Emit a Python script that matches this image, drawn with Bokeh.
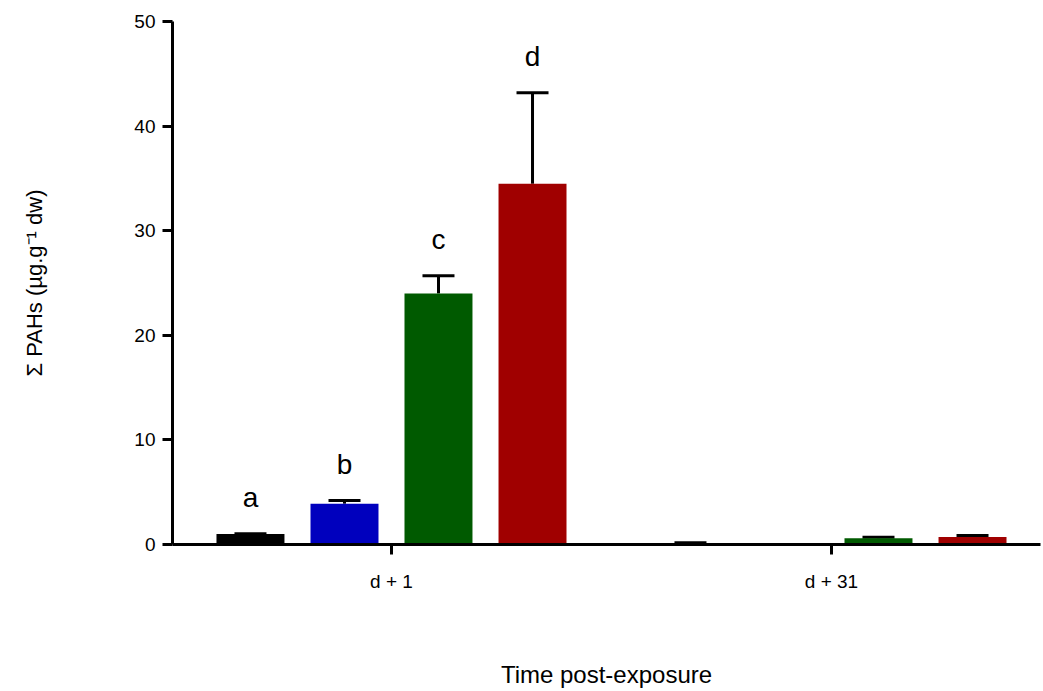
import numpy as np
from bokeh.plotting import figure
from bokeh.models import ColumnDataSource, Range1d, FixedTicker, Whisker, TeeHead
from bokeh.core.properties import value
from bokeh.embed import file_html
from bokeh.resources import INLINE

# ---- data ----
groups = ["d + 1", "d + 31"]
series = ["S1", "S2", "S3", "S4"]
colors = ["#000000", "#0000BE", "#005A00", "#A00000"]
means_d1 = [1.0, 3.9, 24.0, 34.5]
errs_d1 = [0.03, 0.3, 1.7, 8.7]
means_d31 = [0.05, 0.0, 0.6, 0.72]
errs_d31 = [0.12, 0.0, 0.1, 0.15]
letters_d1 = ["a", "b", "c", "d"]
y_ticks = [0, 10, 20, 30, 40, 50]

FONT = "Liberation Sans"

offsets = [-0.3205, -0.1068, 0.1068, 0.3205]
bar_w = 0.1545

xs, tops, errs, cols = [], [], [], []
for gi, (m, e) in enumerate([(means_d1, errs_d1), (means_d31, errs_d31)]):
    for si in range(len(series)):
        xs.append(gi + offsets[si])
        tops.append(m[si])
        errs.append(e[si])
        cols.append(colors[si])

src = ColumnDataSource(dict(x=xs, top=tops, upper=[t + e for t, e in zip(tops, errs)],
                            color=cols))

p = figure(width=1043, height=691, output_backend="svg", toolbar_location=None,
           x_range=Range1d(-0.4977, 1.475), y_range=Range1d(0, 50),
           min_border_left=172, min_border_top=21, min_border_bottom=147, min_border_right=3)
p.outline_line_color = None
p.xgrid.visible = False
p.ygrid.visible = False

p.vbar(x="x", top="top", bottom=0, width=bar_w, color="color", line_color=None, source=src)

wh = Whisker(base="x", lower="top", upper="upper", source=src,
             line_color="black", line_width=3,
             upper_head=TeeHead(size=32, line_width=3, line_color="black"),
             lower_head=None)
p.add_layout(wh)

lsrc = ColumnDataSource(dict(x=[0 + o for o in offsets],
                             y=[m + e for m, e in zip(means_d1, errs_d1)],
                             t=letters_d1))
p.text(x="x", y="y", text="t", source=lsrc, text_align="center", text_baseline="alphabetic",
       y_offset=-36, text_font=value(FONT), text_font_size="28px", text_color="black")

# y axis
p.yaxis.ticker = FixedTicker(ticks=y_ticks)
p.yaxis.minor_tick_line_color = None
p.yaxis.major_tick_in = 0
p.yaxis.major_tick_out = 10
p.yaxis.major_tick_line_width = 3
p.yaxis.axis_line_width = 3
p.yaxis.major_label_text_font = FONT
p.yaxis.major_label_text_font_size = "19px"
p.yaxis.major_label_text_color = "black"
p.yaxis.major_label_standoff = 7
p.yaxis.axis_label = "Σ PAHs (µg.g⁻¹ dw)"
p.yaxis.axis_label_text_font = FONT
p.yaxis.axis_label_text_font_size = "22px"
p.yaxis.axis_label_text_font_style = "normal"
p.yaxis.axis_label_text_color = "black"
p.yaxis.axis_label_standoff = 84

# x axis
p.xaxis.ticker = FixedTicker(ticks=list(range(len(groups))))
p.xaxis.major_label_overrides = {i: g for i, g in enumerate(groups)}
p.xaxis.minor_tick_line_color = None
p.xaxis.major_tick_in = 0
p.xaxis.major_tick_out = 10
p.xaxis.major_tick_line_width = 3
p.xaxis.axis_line_width = 3
p.xaxis.major_label_text_font = FONT
p.xaxis.major_label_text_font_size = "19px"
p.xaxis.major_label_text_color = "black"
p.xaxis.major_label_standoff = 16
p.xaxis.axis_label = "Time post-exposure"
p.xaxis.axis_label_text_font = FONT
p.xaxis.axis_label_text_font_size = "24px"
p.xaxis.axis_label_text_font_style = "normal"
p.xaxis.axis_label_text_color = "black"
p.xaxis.axis_label_standoff = 66

open("out.html", "w").write(file_html(p, INLINE))
